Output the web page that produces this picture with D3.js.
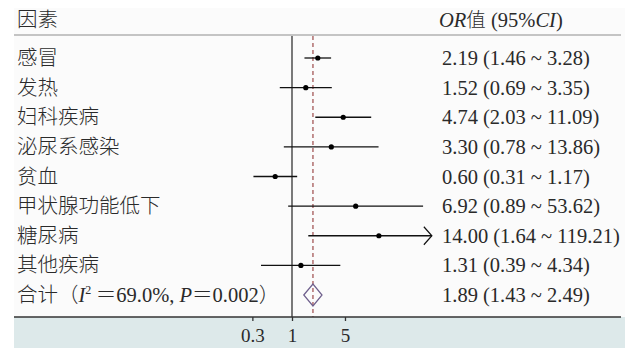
<!DOCTYPE html>
<html>
<head>
<meta charset="utf-8">
<script src="https://d3js.org/d3.v7.min.js"></script>
<style>
    body { margin: 0; background: #ffffff; }
    .cn { font-family: "Noto Sans CJK SC", sans-serif; font-weight: 300; }
    .num { font-family: "Liberation Serif", "Times New Roman", serif; }
</style>
</head>
<body>
<div id="chart"></div>
<script>
    var factors = ['感冒', '发热', '妇科疾病', '泌尿系感染', '贫血', '甲状腺功能低下', '糖尿病', '其他疾病'];
    var orValues = [2.19, 1.52, 4.74, 3.30, 0.60, 6.92, 14.00, 1.31];
    var ciLower = [1.46, 0.69, 2.03, 0.78, 0.31, 0.89, 1.64, 0.39];
    var ciUpper = [3.28, 3.35, 11.09, 13.86, 1.17, 53.62, 119.21, 4.34];
    var pooled = {or: 1.89, lo: 1.43, hi: 2.49};
    var tickValues = [0.3, 1, 5];
    var axisMax = 70;   // CI beyond this gets an arrow

    var width = 640, height = 348;
    var left = 14, right = 625, headerY = 35, axisY = 317;
    var cnSize = '20.5px', numSize = '20.5px', textColor = '#2a2a2a';

    var svg = d3.select('#chart').append('svg')
        .attr('width', width)
        .attr('height', height);

    // panel + axis band
    svg.append('rect')
        .attr('x', left).attr('y', 8)
        .attr('width', right - left).attr('height', axisY - 8)
        .style('fill', '#fbfbfb');
    svg.append('rect')
        .attr('x', left).attr('y', axisY)
        .attr('width', right - left).attr('height', height - axisY)
        .style('fill', '#dde9ea');

    var x = d3.scaleLog()
        .domain([0.1, 100])
        .range([216.2, 443.6]);

    var rowNames = factors.concat(['合计']);
    var y = d3.scalePoint()
        .domain(rowNames)
        .range([58, 295]);

    // header
    svg.append('line')
        .attr('x1', left).attr('x2', right - 4)
        .attr('y1', headerY).attr('y2', headerY)
        .style('stroke', '#c4c4c4')
        .style('stroke-width', 2);

    svg.append('text')
        .attr('class', 'cn')
        .attr('x', 17).attr('y', 27)
        .style('font-size', cnSize)
        .style('fill', textColor)
        .text('因素');

    var hdr = svg.append('text')
        .attr('class', 'num')
        .attr('x', 439).attr('y', 27)
        .style('font-size', numSize)
        .style('fill', textColor);
    hdr.append('tspan').style('font-style', 'italic').text('OR');
    hdr.append('tspan').attr('class', 'cn').style('font-size', '19.5px').text('值');
    hdr.append('tspan').text(' (95%');
    hdr.append('tspan').style('font-style', 'italic').text('CI');
    hdr.append('tspan').text(')');

    // reference lines
    svg.append('line')
        .attr('x1', x(1)).attr('x2', x(1))
        .attr('y1', headerY + 1).attr('y2', axisY)
        .style('stroke', '#333')
        .style('stroke-width', 1.3);

    svg.append('line')
        .attr('x1', x(pooled.or)).attr('x2', x(pooled.or))
        .attr('y1', headerY + 1).attr('y2', axisY)
        .style('stroke', '#9c4a4a')
        .style('stroke-width', 1.2)
        .style('stroke-dasharray', '4,3');

    var rows = factors.map(function (f, i) {
        return {name: f, or: orValues[i], lo: ciLower[i], hi: ciUpper[i]};
    });

    // labels
    svg.selectAll('.row-label')
        .data(rows)
        .enter().append('text')
        .attr('class', 'row-label cn')
        .attr('x', 17)
        .attr('y', function (d) { return y(d.name) + 7; })
        .style('font-size', cnSize)
        .style('fill', textColor)
        .text(function (d) { return d.name; });

    svg.selectAll('.row-value')
        .data(rows)
        .enter().append('text')
        .attr('class', 'row-value num')
        .attr('x', 442)
        .attr('y', function (d) { return y(d.name) + 7; })
        .style('font-size', numSize)
        .style('fill', textColor)
        .text(function (d) {
            return d.or.toFixed(2) + ' (' + d.lo.toFixed(2) + ' ~ ' + d.hi.toFixed(2) + ')';
        });

    // CI lines
    svg.selectAll('.ci')
        .data(rows)
        .enter().append('line')
        .attr('class', 'ci')
        .attr('x1', function (d) { return x(d.lo); })
        .attr('x2', function (d) { return x(Math.min(d.hi, axisMax)); })
        .attr('y1', function (d) { return y(d.name); })
        .attr('y2', function (d) { return y(d.name); })
        .style('stroke', '#111')
        .style('stroke-width', 1.3);

    // arrows for clipped CIs
    svg.selectAll('.arrow')
        .data(rows.filter(function (d) { return d.hi > axisMax; }))
        .enter().append('path')
        .attr('class', 'arrow')
        .attr('d', function (d) {
            var ax = x(axisMax), ay = y(d.name);
            return 'M' + (ax - 8) + ',' + (ay - 9) + 'L' + ax + ',' + ay + 'L' + (ax - 8) + ',' + (ay + 9);
        })
        .style('fill', 'none')
        .style('stroke', '#111')
        .style('stroke-width', 1.2);

    // point estimates
    svg.selectAll('.pt')
        .data(rows)
        .enter().append('circle')
        .attr('class', 'pt')
        .attr('cx', function (d) { return x(d.or); })
        .attr('cy', function (d) { return y(d.name); })
        .attr('r', 2.6)
        .style('fill', '#000');

    // pooled row
    var py = y('合计');
    svg.append('path')
        .attr('d', 'M' + x(pooled.lo) + ',' + py +
            'L' + x(pooled.or) + ',' + (py - 11) +
            'L' + x(pooled.hi) + ',' + py +
            'L' + x(pooled.or) + ',' + (py + 11) + 'Z')
        .style('fill', 'none')
        .style('stroke', '#6e5f8c')
        .style('stroke-width', 1.2);

    var tot = svg.append('text')
        .attr('class', 'cn')
        .attr('x', 17).attr('y', py + 7)
        .style('font-size', cnSize)
        .style('fill', textColor);
    tot.append('tspan').text('合计（');
    tot.append('tspan').attr('class', 'num').style('font-style', 'italic').style('font-size', numSize).text('I');
    tot.append('tspan').attr('class', 'num').style('font-size', '12px').attr('dy', -8).text('2');
    tot.append('tspan').attr('dy', 8).text(' ＝');
    tot.append('tspan').attr('class', 'num').style('font-size', numSize).text('69.0%, ');
    tot.append('tspan').attr('class', 'num').style('font-style', 'italic').style('font-size', numSize).text('P');
    tot.append('tspan').text('＝');
    tot.append('tspan').attr('class', 'num').style('font-size', numSize).text('0.002');
    tot.append('tspan').text('）');

    svg.append('text')
        .attr('class', 'num')
        .attr('x', 442).attr('y', py + 7)
        .style('font-size', numSize)
        .style('fill', textColor)
        .text(pooled.or.toFixed(2) + ' (' + pooled.lo.toFixed(2) + ' ~ ' + pooled.hi.toFixed(2) + ')');

    // x axis
    svg.append('line')
        .attr('x1', left).attr('x2', right - 4)
        .attr('y1', axisY).attr('y2', axisY)
        .style('stroke', '#333')
        .style('stroke-width', 1.5);

    var xAxis = d3.axisBottom(x)
        .tickValues(tickValues)
        .tickSize(4)
        .tickPadding(8)
        .tickFormat(d3.format('~g'));

    var gx = svg.append('g')
        .attr('transform', 'translate(0,' + axisY + ')')
        .call(xAxis);
    gx.select('.domain').remove();
    gx.selectAll('.tick line').style('stroke', '#333').style('stroke-width', 1.3);
    gx.selectAll('.tick text')
        .attr('class', 'num')
        .style('font-family', '"Liberation Serif", serif')
        .style('font-size', '19px')
        .style('fill', textColor);
</script>
</body>
</html>
